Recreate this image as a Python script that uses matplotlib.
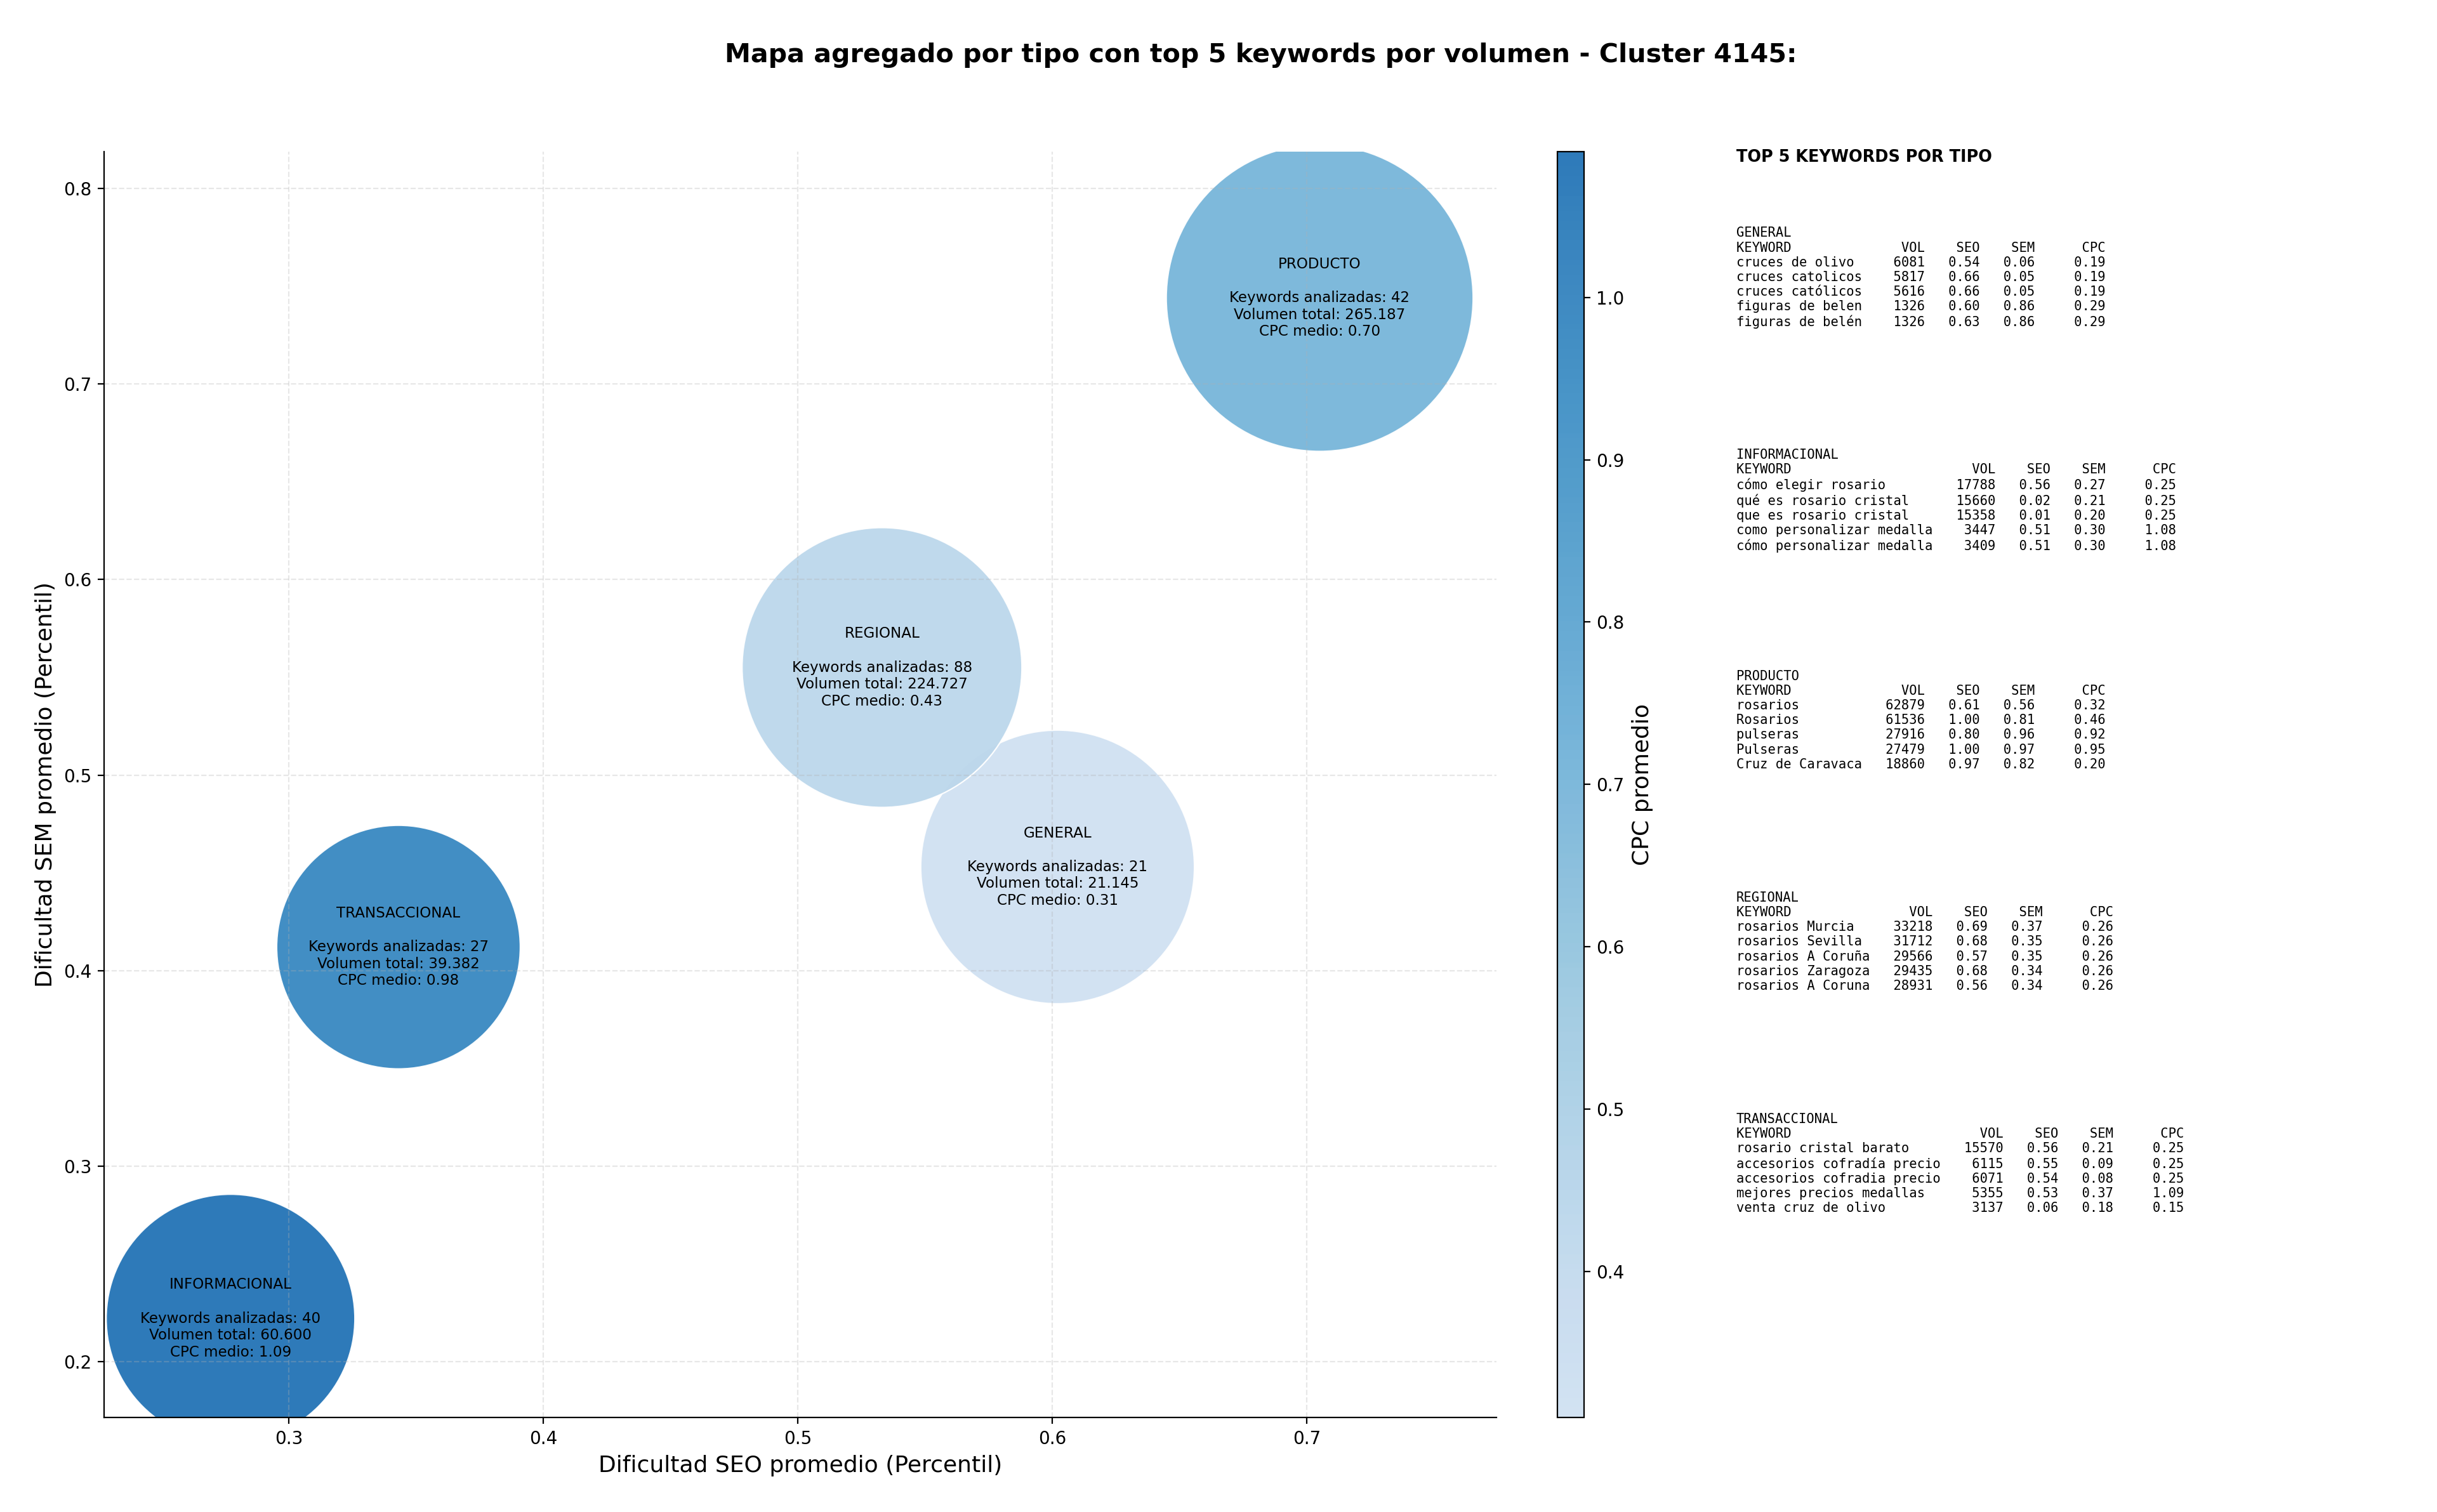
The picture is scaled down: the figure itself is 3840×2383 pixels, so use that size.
import numpy as np
import matplotlib
matplotlib.use("Agg")
import matplotlib.pyplot as plt
from matplotlib.colors import LinearSegmentedColormap

#%% datos agregados por tipo
tipos = ["GENERAL", "INFORMACIONAL", "PRODUCTO", "REGIONAL", "TRANSACCIONAL"]
seo_medio = [0.602, 0.277, 0.705, 0.533, 0.343]
sem_medio = [0.453, 0.222, 0.744, 0.555, 0.412]
n_keywords = [21, 40, 42, 88, 27]
vol_total = [21145, 60600, 265187, 224727, 39382]
cpc_medio = [0.31, 1.09, 0.70, 0.43, 0.98]

#%% top 5 keywords por tipo: (keyword, vol, seo, sem, cpc)
top_general = [("cruces de olivo", 6081, 0.54, 0.06, 0.19),
               ("cruces catolicos", 5817, 0.66, 0.05, 0.19),
               ("cruces católicos", 5616, 0.66, 0.05, 0.19),
               ("figuras de belen", 1326, 0.60, 0.86, 0.29),
               ("figuras de belén", 1326, 0.63, 0.86, 0.29)]
top_informacional = [("cómo elegir rosario", 17788, 0.56, 0.27, 0.25),
                     ("qué es rosario cristal", 15660, 0.02, 0.21, 0.25),
                     ("que es rosario cristal", 15358, 0.01, 0.20, 0.25),
                     ("como personalizar medalla", 3447, 0.51, 0.30, 1.08),
                     ("cómo personalizar medalla", 3409, 0.51, 0.30, 1.08)]
top_producto = [("rosarios", 62879, 0.61, 0.56, 0.32),
                ("Rosarios", 61536, 1.00, 0.81, 0.46),
                ("pulseras", 27916, 0.80, 0.96, 0.92),
                ("Pulseras", 27479, 1.00, 0.97, 0.95),
                ("Cruz de Caravaca", 18860, 0.97, 0.82, 0.20)]
top_regional = [("rosarios Murcia", 33218, 0.69, 0.37, 0.26),
                ("rosarios Sevilla", 31712, 0.68, 0.35, 0.26),
                ("rosarios A Coruña", 29566, 0.57, 0.35, 0.26),
                ("rosarios Zaragoza", 29435, 0.68, 0.34, 0.26),
                ("rosarios A Coruna", 28931, 0.56, 0.34, 0.26)]
top_transaccional = [("rosario cristal barato", 15570, 0.56, 0.21, 0.25),
                     ("accesorios cofradía precio", 6115, 0.55, 0.09, 0.25),
                     ("accesorios cofradia precio", 6071, 0.54, 0.08, 0.25),
                     ("mejores precios medallas", 5355, 0.53, 0.37, 1.09),
                     ("venta cruz de olivo", 3137, 0.06, 0.18, 0.15)]
tops = [top_general, top_informacional, top_producto, top_regional, top_transaccional]

# tamaño de burbuja (puntos^2), estilo
bubble_area = [24100, 19900, 30300, 25200, 19100]

#%% figura
fig = plt.figure(figsize=(19.2, 11.915), dpi=200)
ax = fig.add_axes([0.0427, 0.0625, 0.5714, 0.8374])
cax = fig.add_axes([0.639, 0.0625, 0.011, 0.8374])

base = plt.get_cmap("Blues")
cmap = LinearSegmentedColormap.from_list("blues_cut", base(np.linspace(0.2, 0.74, 256)))

sc = ax.scatter(seo_medio, sem_medio, s=bubble_area, c=cpc_medio, cmap=cmap,
                alpha=0.95, edgecolors="white", linewidths=0.8)

for i in range(len(tipos)):
    vol_txt = f"{vol_total[i]:,}".replace(",", ".")
    txt = (f"{tipos[i]}\n\nKeywords analizadas: {n_keywords[i]}\n"
           f"Volumen total: {vol_txt}\nCPC medio: {cpc_medio[i]:.2f}")
    ax.text(seo_medio[i], sem_medio[i], txt, ha="center", va="center", fontsize=8.3)

ax.set_xlim(0.2273, 0.7745)
ax.set_ylim(0.1714, 0.819)
ax.spines["top"].set_visible(False)
ax.spines["right"].set_visible(False)
ax.grid(True, linestyle="--", alpha=0.3)
ax.set_xlabel("Dificultad SEO promedio (Percentil)", fontsize=13)
ax.set_ylabel("Dificultad SEM promedio (Percentil)", fontsize=13)

cb = fig.colorbar(sc, cax=cax)
cb.set_label("CPC promedio", fontsize=13)

fig.suptitle("Mapa agregado por tipo con top 5 keywords por volumen - Cluster 4145:",
             fontsize=14.8, fontweight="bold", x=0.5175, y=0.972)

#%% panel de texto con top keywords
fig.text(0.7125, 0.9015, "TOP 5 KEYWORDS POR TIPO", fontsize=9.2, fontweight="bold", va="top")

y0 = 0.85
for i, tipo in enumerate(tipos):
    filas = tops[i]
    w = max(len(f[0]) for f in filas)
    lines = [tipo, f"{'KEYWORD':<{w}}{'VOL':>8}{'SEO':>7}{'SEM':>7}{'CPC':>9}"]
    for kw, vol, seo, sem, cpc in filas:
        lines.append(f"{kw:<{w}}{vol:>8}{seo:>7.2f}{sem:>7.2f}{cpc:>9.2f}")
    fig.text(0.7125, y0 - i * 0.1465, "\n".join(lines), family="DejaVu Sans Mono",
             fontsize=7.4, va="top", linespacing=1.2)

fig.savefig("out.png", dpi=200)
